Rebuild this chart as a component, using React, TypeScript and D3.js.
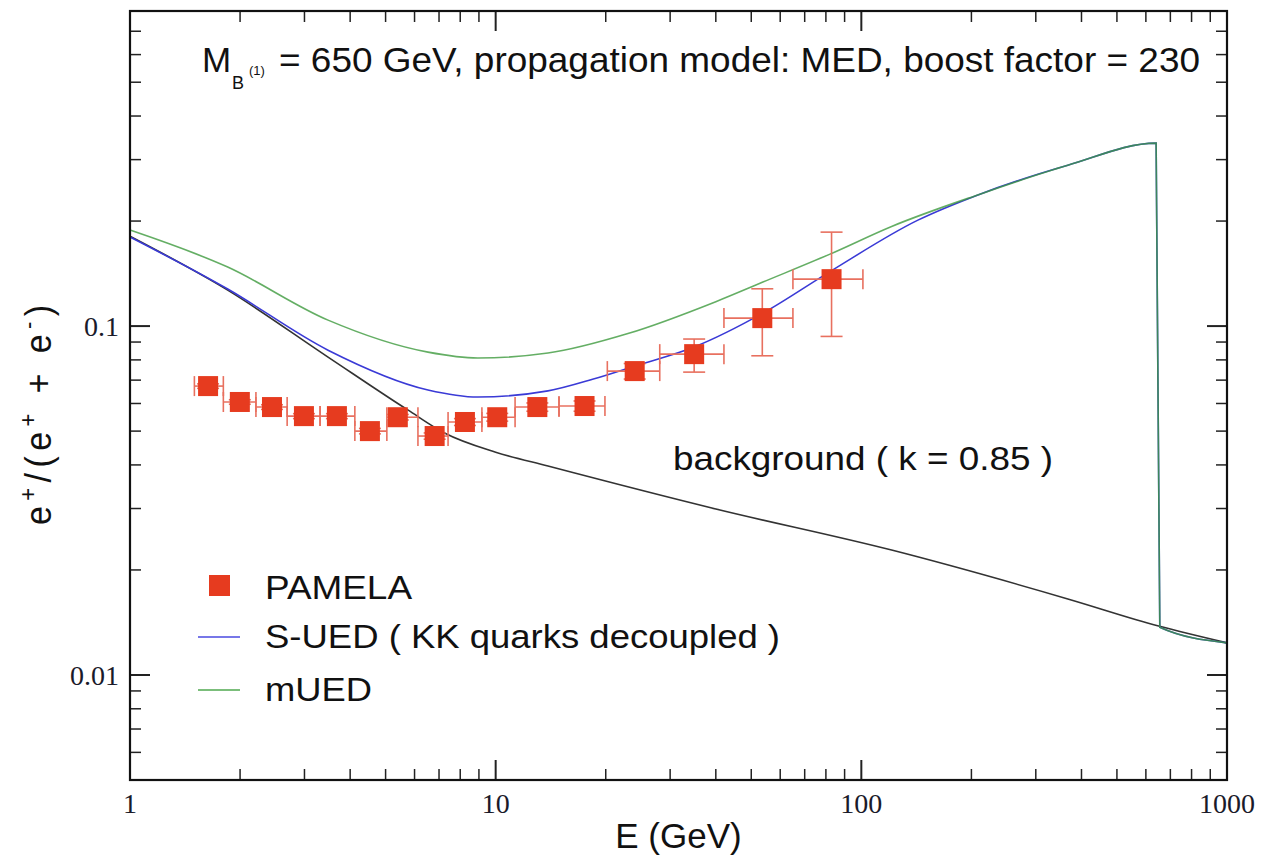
import React from "react";
import * as d3 from "d3";

// PAMELA positron fraction
const pamelaE = [1.635, 1.997, 2.445, 2.99, 3.68, 4.53, 5.4, 6.81, 8.24, 10.1, 13.0, 17.5, 24.0, 34.9, 53.6, 82.9];
const pamelaFrac = [0.0673, 0.0606, 0.0586, 0.0552, 0.0552, 0.05, 0.0548, 0.0484, 0.0531, 0.0548, 0.0586, 0.059, 0.0743, 0.0831, 0.1054, 0.1363];
const pamelaLo = [0.0663, 0.0597, 0.0577, 0.0543, 0.0543, 0.0491, 0.0538, 0.0474, 0.0519, 0.0534, 0.057, 0.057, 0.0705, 0.0738, 0.0822, 0.0934];
const pamelaHi = [0.0683, 0.0615, 0.0595, 0.0561, 0.0561, 0.0509, 0.0558, 0.0494, 0.0543, 0.0562, 0.0602, 0.061, 0.0781, 0.0918, 0.1279, 0.1859];
const binLo = [1.5, 1.8, 2.21, 2.69, 3.31, 4.12, 5.04, 6.13, 7.41, 9.17, 11.3, 14.9, 20.2, 28.1, 42.1, 65.0];
const binHi = [1.8, 2.21, 2.69, 3.31, 4.12, 5.04, 6.13, 7.41, 9.17, 11.3, 14.9, 19.9, 28.1, 42.1, 65.0, 101];

// background (k = 0.85)
const bgE = [1, 1.85, 3.48, 5.75, 7.27, 10, 13.9, 40, 121, 367, 650, 1000];
const bgFrac = [0.181, 0.1268, 0.0815, 0.0575, 0.0493, 0.0435, 0.0397, 0.0299, 0.0228, 0.01652, 0.01381, 0.01236];

// S-UED (KK quarks decoupled)
const sUedE = [1, 1.85, 3.48, 6.53, 8.94, 13.9, 18.5, 24.0, 34.9, 53.8, 82.1, 142.8, 211, 367, 640, 655, 1000];
const sUedFrac = [0.18, 0.1277, 0.0853, 0.0656, 0.0626, 0.0652, 0.0705, 0.0768, 0.0871, 0.1089, 0.1433, 0.2012, 0.2388, 0.289, 0.3345, 0.0137, 0.01236];

// mUED
const mUedE = [1, 1.85, 3.48, 6.53, 8.94, 13.9, 23.0, 40.0, 53.8, 82.1, 121, 211, 367, 640, 655, 1000];
const mUedFrac = [0.1884, 0.1476, 0.104, 0.0842, 0.081, 0.0837, 0.0952, 0.1175, 0.1337, 0.1608, 0.193, 0.2388, 0.289, 0.3345, 0.0137, 0.01236];

const xTickLabels = ["1", "10", "100", "1000"];
const yTickLabels = ["0.01", "0.1"];

const W = 1261;
const H = 858;
const M = { left: 130, right: 1227, top: 11, bottom: 780 };
const SANS = "'Liberation Sans', Arial, Helvetica, sans-serif";
const SERIF = "'Liberation Serif', 'Times New Roman', serif";

export default function App() {
  const x = d3.scaleLog().domain([1, 1000]).range([M.left, M.right]);
  const y = d3.scaleLog().domain([0.005, 0.8]).range([M.bottom, M.top]);

  const line = d3
    .line<[number, number]>()
    .x((d) => x(d[0]))
    .y((d) => y(d[1]))
    .curve(d3.curveMonotoneX);

  const zip = (a: number[], b: number[]) => a.map((v, i) => [v, b[i]] as [number, number]);
  const isMajor = (v: number) => Math.abs(Math.log10(v) - Math.round(Math.log10(v))) < 1e-6;

  const xt = x.ticks();
  const yt = y.ticks().filter((v) => v < 0.79);

  const red = "#e63b1f";
  const errRed = "#e8705f";

  return (
    <svg
      width={W}
      height={H}
      style={{ position: "absolute", left: 0, top: 0, background: "#fff" }}
    >
      <rect x={0} y={0} width={W} height={H} fill="#fff" />

      {/* curves */}
      <g fill="none">
        <path d={line(zip(bgE, bgFrac)) || ""} stroke="#333" strokeWidth={1.6} />
        <path d={line(zip(sUedE, sUedFrac)) || ""} stroke="#3a3ad6" strokeWidth={1.6} />
        <path d={line(zip(mUedE, mUedFrac)) || ""} stroke="#3d9a3d" strokeOpacity={0.8} strokeWidth={1.6} />
      </g>

      {/* PAMELA points */}
      <g>
        {pamelaE.map((e, i) => {
          const cx = x(e);
          const cy = y(pamelaFrac[i]);
          const x0 = x(binLo[i]);
          const x1 = x(binHi[i]);
          const y0 = y(pamelaLo[i]);
          const y1 = y(pamelaHi[i]);
          return (
            <g key={i} stroke={errRed} strokeWidth={1.6}>
              <line x1={x0} x2={x1} y1={cy} y2={cy} />
              <line x1={x0} x2={x0} y1={cy - 10} y2={cy + 10} />
              <line x1={x1} x2={x1} y1={cy - 10} y2={cy + 10} />
              <line x1={cx} x2={cx} y1={y0} y2={y1} />
              <line x1={cx - 11} x2={cx + 11} y1={y0} y2={y0} />
              <line x1={cx - 11} x2={cx + 11} y1={y1} y2={y1} />
              <rect x={cx - 10} y={cy - 10} width={20} height={20} fill={red} stroke="none" />
            </g>
          );
        })}
      </g>

      {/* ticks on all four sides */}
      <g stroke="#222">
        {xt.map((v, i) => {
          const len = isMajor(v) ? 20 : 11;
          const sw = isMajor(v) ? 2 : 1.5;
          return (
            <g key={"x" + i} strokeWidth={sw}>
              <line x1={x(v)} x2={x(v)} y1={M.bottom} y2={M.bottom - len} />
              <line x1={x(v)} x2={x(v)} y1={M.top} y2={M.top + len} />
            </g>
          );
        })}
        {yt.map((v, i) => {
          const len = isMajor(v) ? 20 : 11;
          const sw = isMajor(v) ? 2 : 1.5;
          return (
            <g key={"y" + i} strokeWidth={sw}>
              <line x1={M.left} x2={M.left + len} y1={y(v)} y2={y(v)} />
              <line x1={M.right} x2={M.right - len} y1={y(v)} y2={y(v)} />
            </g>
          );
        })}
      </g>
      <rect
        x={M.left}
        y={M.top}
        width={M.right - M.left}
        height={M.bottom - M.top}
        fill="none"
        stroke="#111"
        strokeWidth={2.2}
      />

      {/* tick labels */}
      <g fontFamily={SERIF} fontSize={28} fill="#1a1a2a">
        {xTickLabels.map((t) => (
          <text key={t} x={x(+t)} y={813} textAnchor="middle">
            {t}
          </text>
        ))}
        {yTickLabels.map((t) => (
          <text key={t} x={119} y={y(+t)} dy="0.35em" textAnchor="end">
            {t}
          </text>
        ))}
      </g>

      {/* axis titles */}
      <text x={(M.left + M.right) / 2} y={848} textAnchor="middle" fontFamily={SANS} fontSize={35} fill="#111">
        E (GeV)
      </text>
      <text
        transform="translate(51,415) rotate(-90) scale(1,1.1)"
        textAnchor="middle"
        fontFamily={SANS}
        fontSize={34}
        fill="#111"
        textLength={220}
        lengthAdjust="spacing"
      >
        e<tspan dy={-14} fontSize={22}>+</tspan>
        <tspan dy={14}>/(e</tspan>
        <tspan dy={-14} fontSize={22}>+</tspan>
        <tspan dy={14}> + e</tspan>
        <tspan dy={-14} fontSize={22}>-</tspan>
        <tspan dy={14}>)</tspan>
      </text>

      {/* title */}
      <g fontFamily={SANS} fill="#111">
        <text x={202} y={72} fontSize={35}>M</text>
        <text x={232} y={89} fontSize={18}>B</text>
        <text x={249} y={75} fontSize={13}>(1)</text>
        <text x={279} y={72} fontSize={35} textLength={921} lengthAdjust="spacingAndGlyphs">
          = 650 GeV, propagation model: MED, boost factor = 230
        </text>
      </g>

      {/* annotation */}
      <text x={673} y={470} fontFamily={SANS} fontSize={33} fill="#111" textLength={380} lengthAdjust="spacingAndGlyphs">
        background ( k = 0.85 )
      </text>

      {/* legend */}
      <g fontFamily={SANS} fontSize={34} fill="#111">
        <rect x={209} y={575} width={21} height={21} fill={red} />
        <text x={265} y={599} textLength={147} lengthAdjust="spacingAndGlyphs">PAMELA</text>
        <line x1={198} x2={240} y1={637} y2={637} stroke="#4a4ae0" strokeWidth={1.6} />
        <text x={265} y={648} textLength={515} lengthAdjust="spacingAndGlyphs">
          S-UED ( KK quarks decoupled )
        </text>
        <line x1={198} x2={240} y1={690} y2={690} stroke="#4fa84f" strokeWidth={1.6} />
        <text x={265} y={701} textLength={107} lengthAdjust="spacingAndGlyphs">mUED</text>
      </g>
    </svg>
  );
}
